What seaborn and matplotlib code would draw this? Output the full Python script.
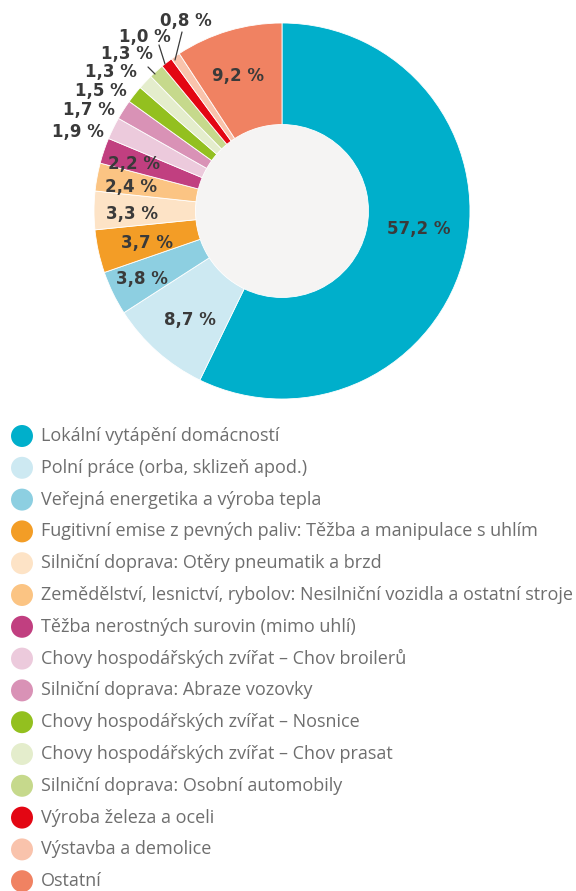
import numpy as np
import matplotlib
matplotlib.use("Agg")
import matplotlib.pyplot as plt
import seaborn as sns

sns.set_theme(style="white")
plt.rcParams['font.family'] = ['Open Sans', 'DejaVu Sans']

# emission shares, clockwise from 12 o'clock
sources = [
    "Lokální vytápění domácností",
    "Polní práce (orba, sklizeň apod.)",
    "Veřejná energetika a výroba tepla",
    "Fugitivní emise z pevných paliv: Těžba a manipulace s uhlím",
    "Silniční doprava: Otěry pneumatik a brzd",
    "Zemědělství, lesnictví, rybolov: Nesilniční vozidla a ostatní stroje",
    "Těžba nerostných surovin (mimo uhlí)",
    "Chovy hospodářských zvířat – Chov broilerů",
    "Silniční doprava: Abraze vozovky",
    "Chovy hospodářských zvířat – Nosnice",
    "Chovy hospodářských zvířat – Chov prasat",
    "Silniční doprava: Osobní automobily",
    "Výroba železa a oceli",
    "Výstavba a demolice",
    "Ostatní",
]
shares = [57.2, 8.7, 3.8, 3.7, 3.3, 2.4, 2.2, 1.9, 1.7, 1.5, 1.3, 1.3, 1.0, 0.8, 9.2]
colors = ["#00afcb", "#cde9f2", "#8dcfe1", "#f39d26", "#fde3c6", "#fbc483",
          "#c13f80", "#eccadc", "#d992b6", "#93c01f", "#e4edcc", "#c6d98c",
          "#e30613", "#f9c3ac", "#f08262"]

# label centres in pixels (manual layout as in the source graphic)
label_px = [(419, 229), (190, 320), (142, 279), (147, 243), (132, 214),
            (131, 187), (134, 164), (78, 132), (89, 110), (101, 91),
            (111, 72), (127, 54), (145, 37), (186, 21), (238, 76)]
leaders = {11: ((148, 67), (155, 74)), 12: ((159, 45), (165, 64)),
           13: ((182, 32), (175, 60))}

W, H = 576, 891
cx, cy, R = 282, 211, 188
fig = plt.figure(figsize=(W / 100, H / 100), dpi=100)
fig.patch.set_facecolor("white")

ax = fig.add_axes([(cx - R) / W, 1 - (cy + R) / H, 2 * R / W, 2 * R / H])
hole = 0.46
ax.pie(shares, colors=colors, startangle=90, counterclock=False, radius=1,
       wedgeprops=dict(width=1 - hole, edgecolor="white", linewidth=0.6))
ax.add_patch(plt.Circle((0, 0), hole, color="#f5f4f3", zorder=0))
ax.set_xlim(-1, 1)
ax.set_ylim(-1, 1)
ax.axis("off")


def to_data(p):
    return (p[0] - cx) / R, (cy - p[1]) / R


for i, v in enumerate(shares):
    x, y = to_data(label_px[i])
    txt = f"{v:.1f}".replace(".", ",") + " %"
    ax.text(x, y, txt, ha="center", va="center", fontsize=12,
            fontweight="bold", color="#3a3a3a", family="DejaVu Sans",
            clip_on=False)

for i, (a, b) in leaders.items():
    (x0, y0), (x1, y1) = to_data(a), to_data(b)
    ax.plot([x0, x1], [y0, y1], color="#3a3a3a", lw=0.9, clip_on=False)

# legend block
top = 420
lax = fig.add_axes([0, 0, 1, (H - top) / H])
lax.set_xlim(0, W)
pitch = 31.8
first = 16 / pitch
lax.set_ylim((H - top) / pitch - first, -first)
lax.axis("off")
rows = np.arange(len(sources))
lax.scatter(np.full(len(sources), 22), rows, s=250, c=colors, linewidths=0)
for i, name in enumerate(sources):
    lax.text(41, i, name, va="center", ha="left", fontsize=13, color="#6e6e6e")

fig.savefig("out.png", dpi=100, facecolor="white")
